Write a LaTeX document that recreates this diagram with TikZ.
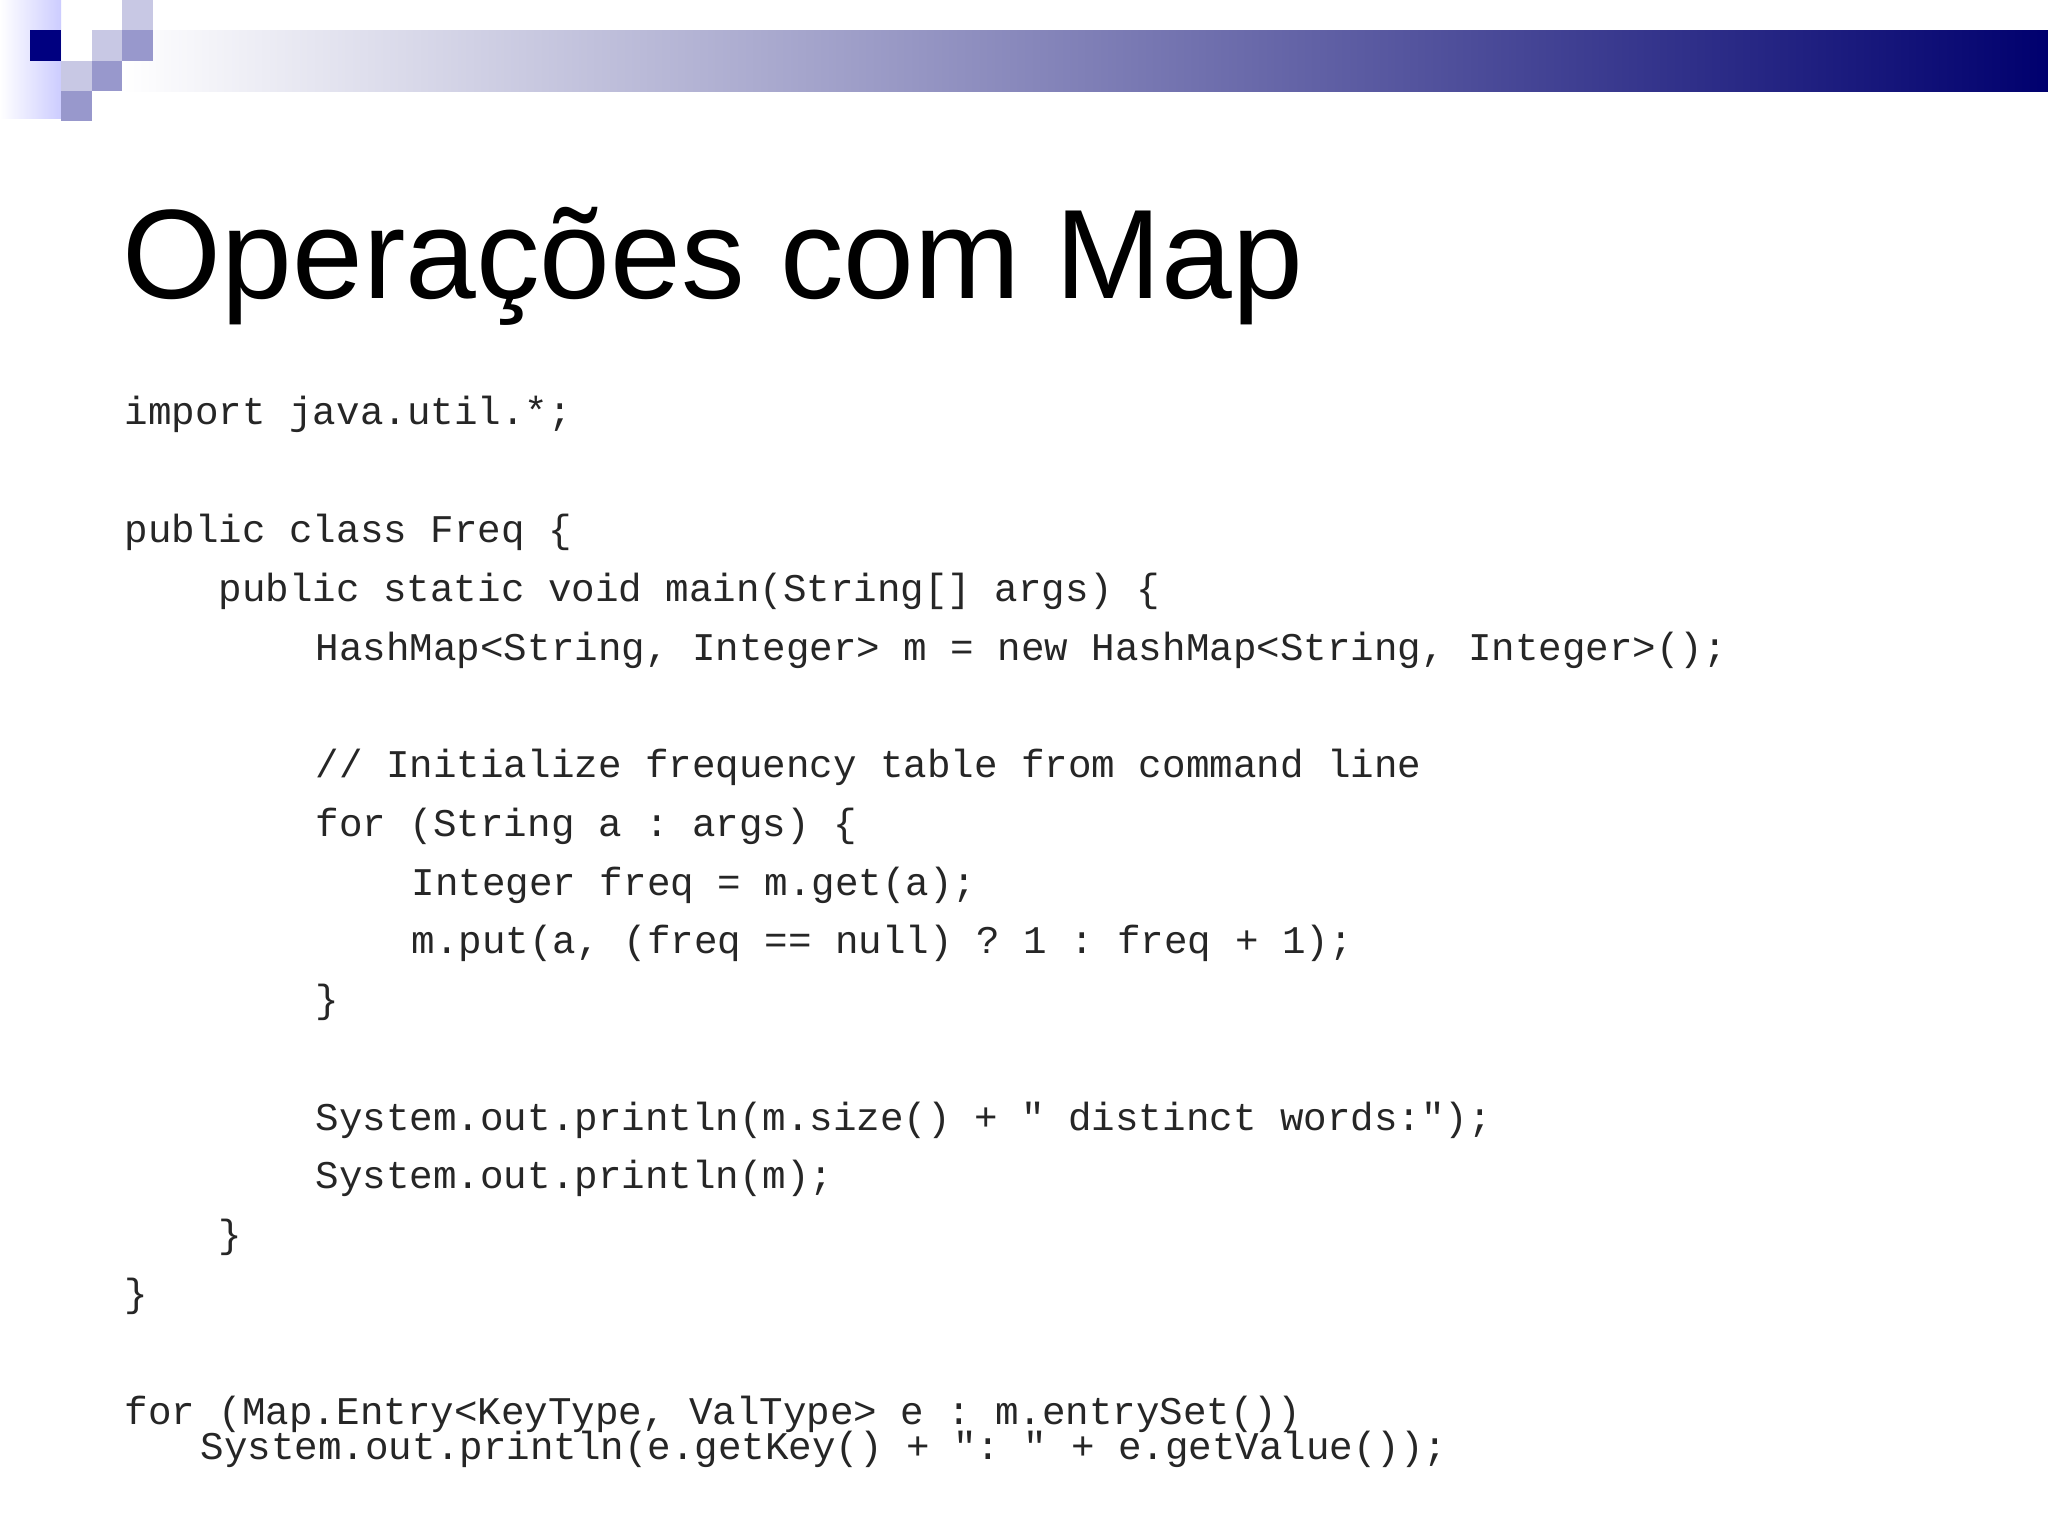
\documentclass[tikz,border=0pt]{standalone}
\usepackage{fontspec}
\setmainfont{Liberation Sans}
\setmonofont{Liberation Mono}
\definecolor{sqlight}{RGB}{200,200,228}
\definecolor{sqmed}{RGB}{152,152,204}
\definecolor{sqdark}{RGB}{0,0,128}
\definecolor{barend}{RGB}{0,0,110}
\begin{document}
\begin{tikzpicture}[x=0.25pt,y=-0.25pt,
  code/.style={anchor=base west,inner sep=0pt,font=\ttfamily\fontsize{9.8pt}{10pt}\selectfont,text=black!85}]
\useasboundingbox (0,0) rectangle (2048,1536);
\fill[white] (0,0) rectangle (2048,1536);
\shade[left color=white,right color=blue!20!white] (0,0) rectangle (61,118);
\shade[left color=white,right color=barend] (122,30) rectangle (2048,91);
\fill[sqlight] (122,0) rectangle (153,30);
\fill[sqdark] (30,30) rectangle (61,61);
\fill[sqlight] (92,30) rectangle (122,61);
\fill[sqmed] (122,30) rectangle (153,61);
\fill[sqlight] (61,61) rectangle (92,91);
\fill[sqmed] (92,61) rectangle (122,91);
\fill[sqmed] (61,91) rectangle (92,121);
\node[anchor=base west,inner sep=0pt,font=\fontsize{31.8pt}{32pt}\selectfont] (title) at (122,298) {Operações com Map};
\node[code] (c1) at (124,424) {import java.util.*;};
\node[code] (c2) at (124,542) {public class Freq \{};
\node[code] (c3) at (218,601) {public static void main(String[] args) \{};
\node[code] (c4) at (315,660) {HashMap<String, Integer> m = new HashMap<String, Integer>();};
\node[code] (c5) at (315,777) {// Initialize frequency table from command line};
\node[code] (c6) at (315,836) {for (String a : args) \{};
\node[code] (c7) at (411,895) {Integer freq = m.get(a);};
\node[code] (c8) at (411,953) {m.put(a, (freq == null) ? 1 : freq + 1);};
\node[code] (c9) at (315,1012) {\}};
\node[code] (c10) at (315,1130) {System.out.println(m.size() + " distinct words:");};
\node[code] (c11) at (315,1188) {System.out.println(m);};
\node[code] (c12) at (218,1247) {\}};
\node[code] (c13) at (124,1306) {\}};
\node[code] (c14) at (124,1424) {for (Map.Entry<KeyType, ValType> e : m.entrySet())};
\node[code] (c15) at (200,1459) {System.out.println(e.getKey() + ": " + e.getValue());};
\end{tikzpicture}
\end{document}
